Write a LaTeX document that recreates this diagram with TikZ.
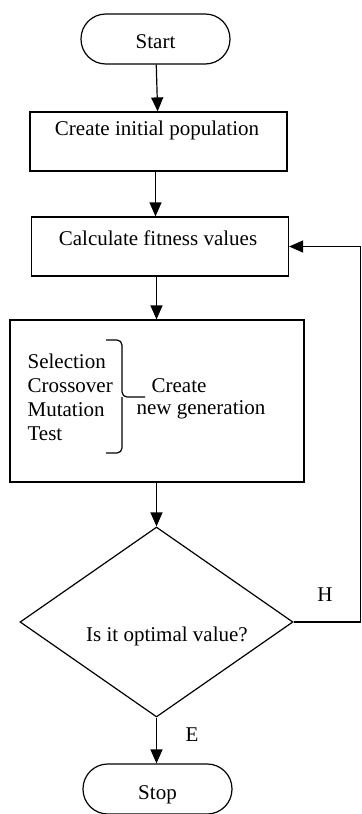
\documentclass[tikz,border=0pt]{standalone}
\usepackage{fontspec}
\setmainfont{Liberation Serif}
\usetikzlibrary{shapes.geometric,arrows.meta}
\begin{document}
\begin{tikzpicture}[x=0.5pt,y=-0.5pt,
  font=\fontsize{10.5}{12}\selectfont,
  line width=0.6pt,
  term/.style={draw,rounded corners=12.4pt,minimum width=74.5pt,minimum height=25pt,inner sep=0pt},
  box/.style={draw,inner sep=0pt},
  dec/.style={draw,diamond,inner sep=0pt,minimum width=136.5pt,minimum height=95pt},
  txt/.style={inner sep=0pt},
  arr/.style={-{Triangle[length=7pt,width=6pt]}}]
\useasboundingbox (0,0) rectangle (362,814);
\node[term] (start) at (155.5,39) {};
\node[txt] (tstart) at (155.5,42) {Start};
\node[box,minimum width=128.5pt,minimum height=29.5pt] (b1) at (158.5,141.5) {};
\node[txt] (t1) at (157,130) {Create initial population};
\node[box,minimum width=128.5pt,minimum height=29.5pt] (b2) at (160,246.5) {};
\node[txt] (t2) at (158,238) {Calculate fitness values};
\node[box,minimum width=147pt,minimum height=81pt] (b3) at (157,401) {};
\node[txt,anchor=west,align=left] (ops) at (27,397) {Selection\\Crossover\\Mutation\\Test};
\node[txt,anchor=west] (c1) at (151,386) {Create};
\node[txt,anchor=west] (c2) at (136,410) {new generation};
\draw[rounded corners=2.5pt] (106,340) -| (122,397) -- (145,397);
\draw[rounded corners=2.5pt] (106,453) -| (122,397);
\node[dec] (d) at (156.5,622) {};
\node[txt] (td) at (167,636) {Is it optimal value?};
\node[term] (stop) at (157.5,789) {};
\node[txt] (tstop) at (157.5,795) {Stop};
\node[txt] (lh) at (325,595) {H};
\node[txt] (le) at (192,735) {E};
\coordinate (r) at (360.5,622);
\draw[arr] (start) -- (b1);
\draw[arr] (b1.south -| start) -- (b2.north -| start);
\draw[arr] (b2.south -| d) -- (b3.north -| d);
\draw[arr] (b3.south -| d) -- (d.north);
\draw[arr] (d.south) -- (stop.north -| d);
\draw[arr] (d.east) -- (r) |- (b2.east);
\end{tikzpicture}
\end{document}
